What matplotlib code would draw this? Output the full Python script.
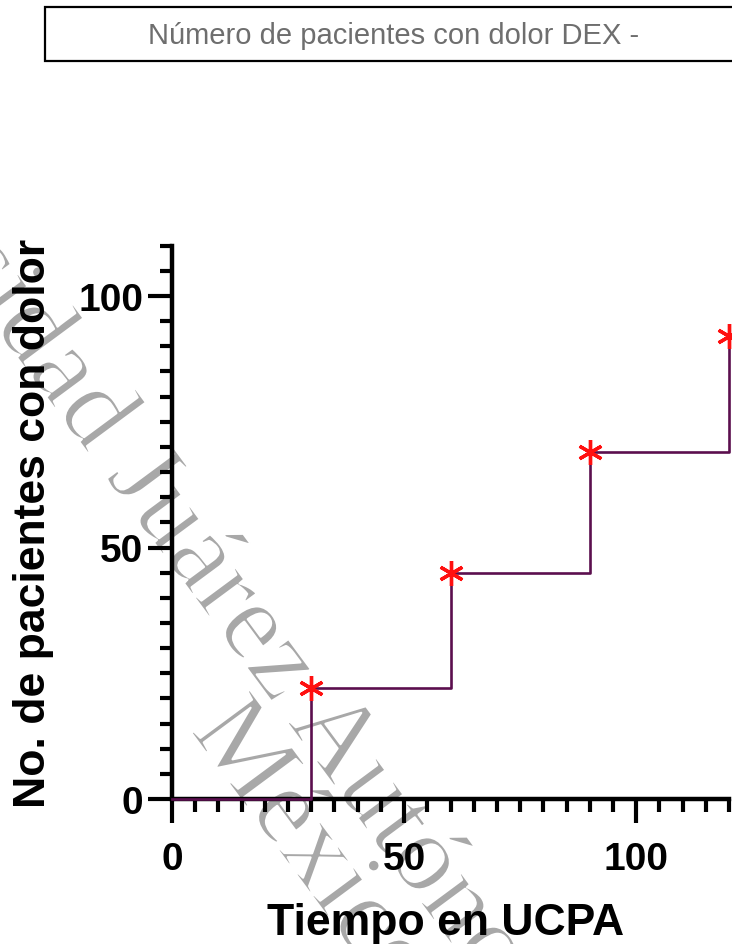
import matplotlib
matplotlib.use("Agg")
import matplotlib.pyplot as plt
import matplotlib.patheffects as pe
from matplotlib.patches import Rectangle
from matplotlib.ticker import MultipleLocator

# ---- data ----
tiempo = [0, 30, 60, 90, 120]          # minutes in UCPA
pacientes = [0, 22, 45, 69, 92]        # cumulative no. of patients with pain
evento_x = tiempo[1:]
evento_y = pacientes[1:]
xticks = [0, 50, 100]
yticks = [0, 50, 100]
titulo = "Número de pacientes con dolor DEX -"
xlabel = "Tiempo en UCPA"
ylabel = "No. de pacientes con dolor"
marca_agua_1 = "Universidad Juárez Autónoma de Tabasco"
marca_agua_2 = "México"

W, H = 732, 945
fig = plt.figure(figsize=(W / 100, H / 100), dpi=100)
fig.patch.set_facecolor("white")

# watermark (behind everything, thin grey serif letters)
wm = dict(family="Liberation Serif", fontsize=80, color="#a8a8a8",
          rotation=-53.5, rotation_mode="anchor", ha="center", va="center",
          zorder=-5,
          path_effects=[pe.Stroke(linewidth=1.6, foreground="white")])
fig.text(342 / W, 1 - 753 / H, marca_agua_1, **wm)
fig.text(312 / W, 1 - 852 / H, marca_agua_2, **wm)

ax = fig.add_axes([172 / W, 1 - 800 / H, (729 - 172) / W, (800 - 246.7) / H])
ax.patch.set_visible(False)

ax.step(tiempo, pacientes, where="post", color="#5b0f4e", lw=1.9,
        clip_on=False, zorder=3)
ax.plot(evento_x, evento_y, linestyle="none", marker=(6, 2, 0),
        markersize=18, markeredgewidth=2.4, color="#ff1010",
        clip_on=False, zorder=4)

ax.set_xlim(0, 120)
ax.set_ylim(0, 110)
ax.set_xticks(xticks)
ax.set_yticks(yticks)
ax.xaxis.set_minor_locator(MultipleLocator(5))
ax.yaxis.set_minor_locator(MultipleLocator(5))

for s in ["top", "right"]:
    ax.spines[s].set_visible(False)
for s in ["left", "bottom"]:
    ax.spines[s].set_linewidth(3.2)
    ax.spines[s].set_color("black")

ax.tick_params(axis="both", which="major", length=17, width=3, color="black")
ax.tick_params(axis="both", which="minor", length=9, width=3, color="black")
ax.tick_params(axis="x", which="major", pad=13)
ax.tick_params(axis="y", which="major", pad=3.5)
for lab in ax.get_xticklabels() + ax.get_yticklabels():
    lab.set_fontfamily("Liberation Sans")
    lab.set_fontweight("bold")
    lab.set_fontsize(28)

fig.text(446 / W, 1 - 935 / H, xlabel, family="Liberation Sans",
         fontweight="bold", fontsize=32, ha="center", va="baseline")
fig.text(34 / W, 1 - 523 / H, ylabel, family="Liberation Sans",
         fontweight="bold", fontsize=32, ha="center", va="center",
         rotation=90)

# legend/title box
fig.add_artist(Rectangle((45 / W, 1 - 62 / H), 1.0, 54 / H,
                         transform=fig.transFigure, facecolor="white",
                         edgecolor="black", linewidth=1.6, clip_on=False))
fig.text(394 / W, 1 - 36 / H, titulo, family="Liberation Sans",
         fontsize=21, color="#6e6e6e", ha="center", va="center")

fig.savefig("out.png", dpi=100)
